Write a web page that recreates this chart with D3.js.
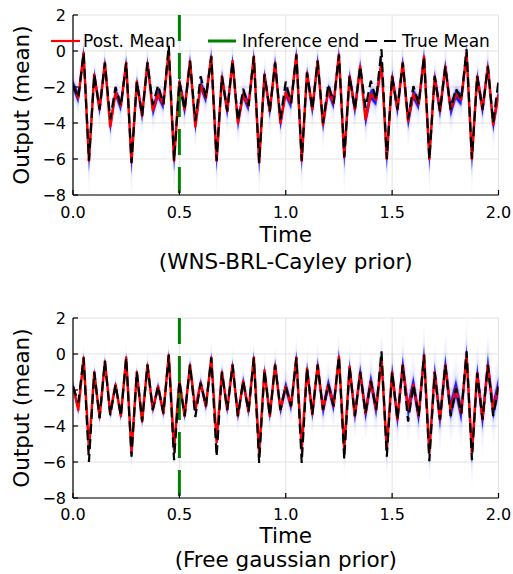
<!DOCTYPE html>
<html>
<head>
<meta charset="utf-8">
<script src="https://cdn.jsdelivr.net/npm/d3@7"></script>
<style>
  body { margin: 0; background: #fff; }
  text { font-family: "DejaVu Sans", sans-serif; fill: #000; }
</style>
</head>
<body>
<script>
// sample times (step 0.025)
var times = [0,0.025,0.05,0.075,0.1,0.125,0.15,0.175,0.2,0.225,0.25,0.275,0.3,0.325,0.35,0.375,
  0.4,0.425,0.45,0.475,0.5,0.525,0.55,0.575,0.6,0.625,0.65,0.675,0.7,0.725,0.75,0.775,
  0.8,0.825,0.85,0.875,0.9,0.925,0.95,0.975,1,1.025,1.05,1.075,1.1,1.125,1.15,1.175,
  1.2,1.225,1.25,1.275,1.3,1.325,1.35,1.375,1.4,1.425,1.45,1.475,1.5,1.525,1.55,1.575,
  1.6,1.625,1.65,1.675,1.7,1.725,1.75,1.775,1.8,1.825,1.85,1.875,1.9,1.925,1.95,1.975,2];

// true mean (top panel reading)
var trueMeanTop = [-1.9,-2.6,-0.1,-6.1,-1.3,-3.25,-0.65,-3.8,
  -2.0,-3.05,-0.65,-6.2,-1.7,-3.6,-0.65,-3.0,
  -1.9,-2.95,0.3,-6.1,-1.7,-3.25,-0.55,-3.9,
  -1.4,-2.6,-0.3,-6.1,-1.4,-3.35,-0.55,-3.9,
  -2.1,-3.05,-0.3,-6.2,-1.3,-3.35,-0.65,-3.8,
  -1.7,-2.9,-0.2,-6.1,-1.2,-3.25,-0.55,-4.0,
  -1.85,-2.9,-0.2,-5.9,-1.4,-3.25,-0.85,-3.15,
  -1.65,-2.7,0.1,-6.0,-1.4,-3.25,-0.65,-3.8,
  -1.95,-2.95,-0.3,-6.0,-1.4,-3.35,-0.85,-3.25,
  -2.1,-2.7,0.1,-6.0,-1.4,-3.25,-0.85,-4.0,
  -1.65];

// posterior mean, WNS-BRL-Cayley prior
var postMeanTop = [-1.9,-2.6,-0.1,-6.1,-1.3,-3.25,-0.65,-4.2,
  -2.3,-3.05,-0.65,-6.2,-1.7,-3.6,-0.65,-3.3,
  -2.4,-2.95,0.0,-6.1,-1.7,-3.25,-0.55,-4.2,
  -1.9,-2.6,-0.3,-6.1,-1.4,-3.35,-0.55,-4.0,
  -2.4,-3.05,-0.3,-6.2,-1.3,-3.35,-0.65,-4.0,
  -2.3,-2.9,-0.2,-6.1,-1.2,-3.25,-0.55,-4.1,
  -2.15,-2.9,-0.2,-5.9,-1.4,-3.25,-0.85,-3.8,
  -2.4,-2.7,-0.65,-6.0,-1.4,-3.25,-0.65,-3.9,
  -2.4,-2.95,-0.3,-6.0,-1.4,-3.35,-0.85,-3.25,
  -2.4,-2.7,-0.1,-6.0,-1.4,-3.25,-0.85,-4.1,
  -2.4];

var sdTop = [0.16,0.2,0.22,0.36,0.18,0.22,0.2,0.24,
  0.16,0.2,0.22,0.38,0.18,0.22,0.2,0.22,
  0.16,0.2,0.22,0.36,0.18,0.24,0.21,0.24,
  0.17,0.2,0.23,0.36,0.19,0.24,0.22,0.24,
  0.17,0.2,0.23,0.38,0.19,0.24,0.22,0.24,
  0.17,0.2,0.24,0.36,0.19,0.24,0.23,0.26,
  0.18,0.21,0.24,0.38,0.2,0.24,0.23,0.26,
  0.18,0.21,0.24,0.36,0.2,0.25,0.23,0.26,
  0.18,0.21,0.24,0.38,0.2,0.25,0.23,0.26,
  0.18,0.21,0.24,0.38,0.2,0.25,0.23,0.26,
  0.19];

// true mean (bottom panel reading)
var trueMeanBottom = [-1.8,-2.7,-0.2,-6.0,-1.0,-3.55,-0.4,-3.4,
  -1.7,-3.45,-0.2,-5.7,-1.0,-3.75,-0.6,-3.1,
  -1.8,-3.3,-0.05,-5.9,-1.5,-3.45,-0.6,-3.5,
  -1.6,-2.9,-0.2,-5.7,-1.0,-3.1,-0.6,-3.45,
  -1.5,-3.2,-0.2,-6.05,-0.9,-3.45,-0.6,-3.1,
  -1.8,-2.9,-0.2,-6.05,-0.8,-3.35,-0.6,-3.1,
  -1.7,-2.9,-0.15,-5.85,-0.7,-3.45,-1.0,-3.3,
  -1.5,-3.1,0.15,-5.7,-1.0,-3.65,-0.6,-3.75,
  -1.7,-3.45,-0.05,-5.95,-1.0,-3.65,-0.6,-3.45,
  -1.9,-3.3,0.15,-5.9,-1.05,-3.65,-0.6,-3.45,
  -1.8];

// posterior mean, Free gaussian prior
var postMeanBottom = [-1.8,-3.1,-0.2,-5.3,-1.0,-3.55,-0.4,-3.3,
  -1.7,-3.45,-0.2,-5.5,-1.0,-3.75,-0.6,-3.1,
  -1.8,-3.3,-0.05,-5.3,-1.5,-3.45,-0.6,-3.1,
  -1.6,-2.9,-0.2,-4.9,-1.0,-3.1,-0.6,-3.45,
  -1.5,-3.2,-0.2,-5.5,-0.9,-3.45,-0.6,-3.1,
  -1.8,-2.9,-0.2,-5.3,-0.8,-3.35,-0.6,-3.1,
  -1.7,-2.9,-0.15,-5.3,-0.7,-3.45,-1.0,-3.3,
  -1.5,-3.1,-0.3,-5.3,-1.0,-3.65,-0.6,-3.1,
  -1.7,-3.45,-0.05,-5.5,-1.0,-3.65,-0.6,-3.1,
  -1.9,-3.3,-0.05,-5.5,-1.05,-3.65,-0.6,-3.1,
  -1.8];

var sdBottom = [0.12,0.14,0.14,0.2,0.13,0.15,0.14,0.15,
  0.12,0.14,0.15,0.2,0.13,0.15,0.14,0.15,
  0.13,0.14,0.15,0.2,0.14,0.15,0.15,0.16,
  0.15,0.16,0.17,0.22,0.16,0.17,0.17,0.18,
  0.17,0.18,0.19,0.24,0.18,0.19,0.19,0.2,
  0.19,0.2,0.22,0.26,0.21,0.22,0.22,0.24,
  0.22,0.23,0.25,0.28,0.24,0.25,0.26,0.27,
  0.26,0.27,0.29,0.32,0.28,0.29,0.3,0.31,
  0.29,0.3,0.32,0.34,0.3,0.32,0.32,0.33,
  0.31,0.32,0.35,0.36,0.32,0.34,0.34,0.33,
  0.31];

var xTicks = [0, 0.5, 1, 1.5, 2];
var yTicks = [2, 0, -2, -4, -6, -8];
var inferenceEnd = 0.5;
var legendLabels = ["Post. Mean", "Inference end", "True Mean"];
var subtitles = ["(WNS-BRL-Cayley prior)", "(Free gaussian prior)"];

// ribbon layers, widest first (multiples of sd, opacity)
var bandLayers = [{z: 6, o: 0.025}, {z: 4.5, o: 0.03}, {z: 3, o: 0.05},
                  {z: 2.2, o: 0.2}, {z: 1.6, o: 0.85}];

var width = 513, height = 574;

var svg = d3.select("body").append("svg")
    .attr("width", width)
    .attr("height", height);

var panels = [
  {top: 15, bottom: 195, post: postMeanTop, truth: trueMeanTop, sd: sdTop, sub: subtitles[0], legend: true,
   tickBase: 218, labBase: 242, subBase: 269},
  {top: 318, bottom: 498, post: postMeanBottom, truth: trueMeanBottom, sd: sdBottom, sub: subtitles[1], legend: false,
   tickBase: 520, labBase: 543, subBase: 567}
];

var left = 73, right = 498.5;

panels.forEach(function(p, pi){
    var x = d3.scaleLinear().domain([0, 2]).range([left, right]);
    var y = d3.scaleLinear().domain([-8, 2]).range([p.bottom, p.top]);
    var g = svg.append("g");

    var clipId = "clip" + pi;
    g.append("clipPath").attr("id", clipId)
      .append("rect").attr("x", left).attr("y", p.top)
      .attr("width", right - left).attr("height", p.bottom - p.top);

    // grid
    g.selectAll(".gx").data(xTicks).enter().append("line")
      .attr("x1", d => x(d)).attr("x2", d => x(d))
      .attr("y1", p.top).attr("y2", p.bottom)
      .attr("stroke", "#e3e3e3").attr("stroke-width", 1);
    g.selectAll(".gy").data(yTicks).enter().append("line")
      .attr("x1", left).attr("x2", right)
      .attr("y1", d => y(d)).attr("y2", d => y(d))
      .attr("stroke", "#e3e3e3").attr("stroke-width", 1);

    var plot = g.append("g").attr("clip-path", "url(#" + clipId + ")");

    // posterior ribbon
    bandLayers.forEach(function(b){
        var area = d3.area()
            .x((d, i) => x(times[i]))
            .y0((d, i) => y(d - b.z * p.sd[i]))
            .y1((d, i) => y(d + b.z * p.sd[i]));
        plot.append("path")
            .datum(p.post)
            .attr("d", area)
            .attr("fill", "rgb(0,0,255)")
            .attr("fill-opacity", b.o);
    });

    var line = d3.line().x((d, i) => x(times[i])).y(d => y(d));

    plot.append("path")
        .datum(p.post)
        .attr("d", line)
        .attr("fill", "none")
        .attr("stroke", "#ff0000")
        .attr("stroke-width", 2.5)
        .attr("stroke-linejoin", "round");

    plot.append("line")
        .attr("x1", x(inferenceEnd)).attr("x2", x(inferenceEnd))
        .attr("y1", p.top).attr("y2", p.bottom)
        .attr("stroke", "#008000")
        .attr("stroke-width", 3)
        .attr("stroke-dasharray", "26,12");

    plot.append("path")
        .datum(p.truth)
        .attr("d", line)
        .attr("fill", "none")
        .attr("stroke", "#000")
        .attr("stroke-width", 2.2)
        .attr("stroke-dasharray", "10,5");

    // axes spines
    g.append("line").attr("x1", left).attr("x2", left)
      .attr("y1", p.top).attr("y2", p.bottom)
      .attr("stroke", "#000").attr("stroke-width", 1.2);
    g.append("line").attr("x1", left).attr("x2", right)
      .attr("y1", p.bottom).attr("y2", p.bottom)
      .attr("stroke", "#000").attr("stroke-width", 1.2);

    // tick marks
    g.selectAll(".ty").data(yTicks).enter().append("line")
      .attr("x1", left).attr("x2", left + 5)
      .attr("y1", d => y(d)).attr("y2", d => y(d))
      .attr("stroke", "#000").attr("stroke-width", 1.2);
    g.selectAll(".tx").data(xTicks).enter().append("line")
      .attr("x1", d => x(d)).attr("x2", d => x(d))
      .attr("y1", p.bottom).attr("y2", p.bottom - 5)
      .attr("stroke", "#000").attr("stroke-width", 1.2);

    // tick labels
    g.selectAll(".ly").data(yTicks).enter().append("text")
      .attr("x", 66).attr("y", d => y(d))
      .attr("dy", "0.36em")
      .attr("text-anchor", "end")
      .style("font-size", "16px")
      .text(d => d3.format(".0f")(d).replace("-", "\u2212"));
    g.selectAll(".lx").data(xTicks).enter().append("text")
      .attr("x", d => x(d)).attr("y", p.tickBase)
      .attr("text-anchor", "middle")
      .style("font-size", "16px")
      .text(d => d3.format(".1f")(d));

    // axis titles
    g.append("text")
      .attr("x", (left + right) / 2).attr("y", p.labBase)
      .attr("text-anchor", "middle")
      .style("font-size", "21.5px")
      .text("Time");
    g.append("text")
      .attr("x", (left + right) / 2).attr("y", p.subBase)
      .attr("text-anchor", "middle")
      .style("font-size", "21.5px")
      .text(p.sub);
    g.append("text")
      .attr("transform", "translate(29," + ((p.top + p.bottom) / 2) + ") rotate(-90)")
      .attr("text-anchor", "middle")
      .style("font-size", "21.5px")
      .text("Output (mean)");

    if (p.legend) {
        var ly = 41;
        var items = [
          {x1: 51, x2: 80, tx: 83, color: "#ff0000", w: 2.2, dash: null},
          {x1: 208, x2: 236, tx: 242, color: "#008000", w: 3, dash: null},
          {x1: 365, x2: 397, tx: 402, color: "#000", w: 2.2, dash: "12,7"}
        ];
        items.forEach(function(it, k){
            g.append("line")
              .attr("x1", it.x1).attr("x2", it.x2)
              .attr("y1", ly).attr("y2", ly)
              .attr("stroke", it.color).attr("stroke-width", it.w)
              .attr("stroke-dasharray", it.dash);
            g.append("text")
              .attr("x", it.tx).attr("y", ly)
              .attr("dy", "0.36em")
              .style("font-size", "17px")
              .text(legendLabels[k]);
        });
    }
});
</script>
</body>
</html>
